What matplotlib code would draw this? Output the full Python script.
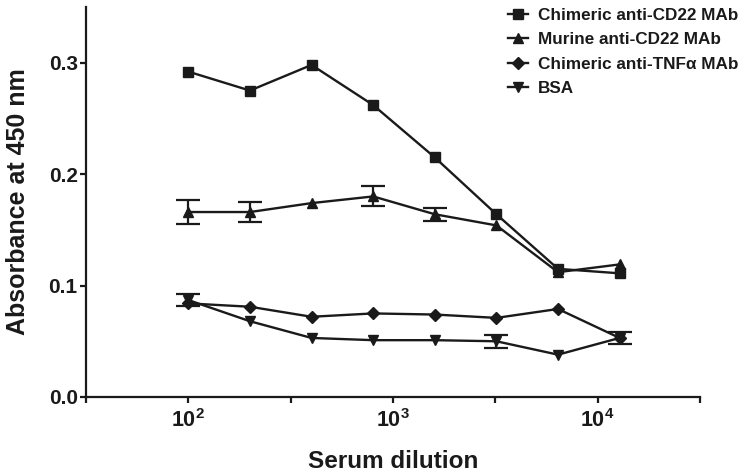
import numpy as np
import matplotlib
matplotlib.use('Agg')
from matplotlib import pyplot as plt

plt.rcParams['font.family'] = ['Liberation Sans', 'DejaVu Sans']
plt.rcParams['font.weight'] = 'bold'

# serum dilutions and absorbance readings
dilution = [100, 200, 400, 800, 1600, 3200, 6400, 12800]
chim_cd22 = [0.292, 0.275, 0.298, 0.262, 0.215, 0.164, 0.115, 0.111]
mur_cd22 = [0.166, 0.166, 0.174, 0.180, 0.164, 0.154, 0.112, 0.119]
mur_err = [0.011, 0.009, 0.0, 0.009, 0.006, 0.0, 0.0, 0.0]
chim_tnf = [0.084, 0.081, 0.072, 0.075, 0.074, 0.071, 0.079, 0.053]
bsa = [0.087, 0.068, 0.053, 0.051, 0.051, 0.050, 0.038, 0.053]
bsa_err = [0.005, 0.0, 0.0, 0.0, 0.0, 0.006, 0.0, 0.005]

col = '#1a1a1a'
fig = plt.figure(figsize=(7.44, 4.75), dpi=100)
ax = fig.add_axes([86 / 744, 1 - 397 / 475, 614 / 744, 390 / 475])

# error bars only where the reference shows them
for y, e in [(mur_cd22, mur_err), (bsa, bsa_err)]:
    x = np.array(dilution)
    y = np.array(y)
    e = np.array(e)
    m = e > 0
    ax.errorbar(x[m], y[m], yerr=e[m], fmt='none', ecolor=col, elinewidth=1.6,
                capsize=8.5, capthick=1.6, zorder=2)

kw = dict(color=col, lw=1.7, zorder=3)
ax.plot(dilution, chim_cd22, marker='s', ms=6.5, label='Chimeric anti-CD22 MAb', **kw)
ax.plot(dilution, mur_cd22, marker='^', ms=7.5, label='Murine anti-CD22 MAb', **kw)
ax.plot(dilution, chim_tnf, marker='D', ms=6.5, label='Chimeric anti-TNF\u03b1 MAb', **kw)
ax.plot(dilution, bsa, marker='v', ms=7.5, label='BSA', **kw)

ax.set_xscale('log')
ax.set_xlim(10 ** 1.5, 10 ** 4.5)
ax.set_ylim(0, 0.35)
ax.set_xticks([10 ** (1.5 + 0.5 * i) for i in range(7)])
ax.set_xticklabels(['', '$\\mathdefault{10^{2}}$', '', '$\\mathdefault{10^{3}}$', '',
                    '$\\mathdefault{10^{4}}$', ''])
ax.xaxis.set_minor_locator(matplotlib.ticker.NullLocator())
ax.set_yticks([0.0, 0.1, 0.2, 0.3])
ax.set_yticklabels(['0.0', '0.1', '0.2', '0.3'])

for s in ['top', 'right']:
    ax.spines[s].set_visible(False)
for s in ['left', 'bottom']:
    ax.spines[s].set_linewidth(1.6)
    ax.spines[s].set_color(col)
ax.tick_params(axis='both', direction='out', length=4, width=1.6, color=col,
               labelsize=15, labelcolor=col)
ax.tick_params(axis='x', pad=5, labelsize=15.5)
ax.tick_params(axis='y', pad=2)

ax.set_xlabel('Serum dilution', fontsize=17.5, fontweight='bold', color=col, labelpad=13)
ax.set_ylabel('Absorbance at 450 nm', fontsize=18, fontweight='bold', color=col, labelpad=13)

leg = ax.legend(loc='upper left', bbox_to_anchor=(499 / 744, 1 + 1 / 475),
                bbox_transform=fig.transFigure, frameon=False, fontsize=12.3,
                handlelength=1.2, handletextpad=0.6, labelspacing=0.56, borderpad=0)
for t in leg.get_texts():
    t.set_color(col)

plt.savefig('out.png', dpi=100)
